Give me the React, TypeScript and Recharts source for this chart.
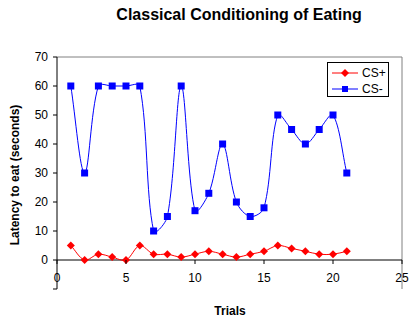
import React from 'react';
import { LineChart, Line, XAxis, YAxis, ReferenceLine } from 'recharts';

// --- data ---
const trials = [1, 2, 3, 4, 5, 6, 7, 8, 9, 10, 11, 12, 13, 14, 15, 16, 17, 18, 19, 20, 21];
const csPlus = [5, 0, 2, 1, 0, 5, 2, 2, 1, 2, 3, 2, 1, 2, 3, 5, 4, 3, 2, 2, 3];
const csMinus = [60, 30, 60, 60, 60, 60, 10, 15, 60, 17, 23, 40, 20, 15, 18, 50, 45, 40, 45, 50, 30];
const xTicks = [0, 5, 10, 15, 20, 25];
const yTicks = [-10, 0, 10, 20, 30, 40, 50, 60, 70];

const data = trials.map((t, i) => ({ trial: t, plus: csPlus[i], minus: csMinus[i] }));

const FONT = 'Arial, "Liberation Sans", sans-serif';
const W = 420;
const H = 326;
const TOP = 57;
const BOTTOM = 37;
const PLOT_H = H - TOP - BOTTOM;
// y of the zero line (domain -10..70)
const ZERO_Y = TOP + (PLOT_H * 70) / 80;

// Excel-like smoothing: bezier through points, control arms scaled by neighbouring segment lengths
const excelCurve = (context: any) => {
  let pts: number[][] = [];
  const dist = (a: number[], b: number[]) => Math.hypot(b[0] - a[0], b[1] - a[1]);
  return {
    areaStart() {},
    areaEnd() {},
    lineStart() {
      pts = [];
    },
    point(x: number, y: number) {
      pts.push([+x, +y]);
    },
    lineEnd() {
      const n = pts.length;
      if (!n) return;
      // control arms for each point: [in, out]
      const arms = pts.map((p, i) => {
        const prev = pts[Math.max(i - 1, 0)];
        const next = pts[Math.min(i + 1, n - 1)];
        const tx = next[0] - prev[0];
        const ty = next[1] - prev[1];
        const dPrev = dist(prev, p);
        const dNext = dist(p, next);
        const sum = dPrev + dNext || 1;
        const fIn = dPrev / sum / 3;
        const fOut = dNext / sum / 3;
        return {
          inX: p[0] - tx * fIn,
          inY: p[1] - ty * fIn,
          outX: p[0] + tx * fOut,
          outY: p[1] + ty * fOut,
        };
      });
      context.moveTo(pts[0][0], pts[0][1]);
      for (let i = 0; i < n - 1; i++) {
        const a = arms[i];
        const b = arms[i + 1];
        context.bezierCurveTo(a.outX, a.outY, b.inX, b.inY, pts[i + 1][0], pts[i + 1][1]);
      }
    },
  };
};

const Diamond = (props: any) => {
  const { cx, cy } = props;
  if (cx == null || cy == null) return null;
  const r = 4;
  return (
    <path
      d={`M${cx},${cy - r}L${cx + r},${cy}L${cx},${cy + r}L${cx - r},${cy}Z`}
      fill="#FF0000"
      stroke="none"
    />
  );
};

const Square = (props: any) => {
  const { cx, cy } = props;
  if (cx == null || cy == null) return null;
  return <rect x={cx - 3.5} y={cy - 3.5} width={7} height={7} fill="#0000FF" stroke="none" />;
};

// x tick drawn on the zero line rather than at the plot bottom
const XTick = (props: any) => {
  const { x, payload } = props;
  return (
    <g>
      <line x1={x} x2={x} y1={ZERO_Y} y2={ZERO_Y + 4} stroke="#000" />
      <text x={x} y={ZERO_Y + 22} textAnchor="middle" fontSize={12} fontFamily={FONT} fill="#000">
        {payload.value}
      </text>
    </g>
  );
};

export default function App() {
  return (
    <div style={{ position: 'relative', width: W, height: H, margin: -8, background: '#fff', fontFamily: FONT }}>
      <div
        style={{
          position: 'absolute',
          left: 0,
          width: W + 58,
          top: 6,
          textAlign: 'center',
          fontSize: 16,
          fontWeight: 'bold',
          color: '#000',
        }}
      >
        Classical Conditioning of Eating
      </div>
      <div
        style={{
          position: 'absolute',
          left: 15,
          top: 175,
          transform: 'translate(-50%, -50%) rotate(-90deg)',
          whiteSpace: 'nowrap',
          fontSize: 12,
          fontWeight: 'bold',
          color: '#000',
        }}
      >
        Latency to eat (seconds)
      </div>
      <div
        style={{
          position: 'absolute',
          left: 230,
          top: 311,
          transform: 'translate(-50%, -50%)',
          fontSize: 12,
          fontWeight: 'bold',
          color: '#000',
        }}
      >
        Trials
      </div>
      <div style={{ position: 'absolute', left: 0, top: 0 }}>
        <LineChart width={W} height={H} data={data} margin={{ top: TOP, right: 18, left: 0, bottom: 0 }}>
          <XAxis
            dataKey="trial"
            type="number"
            domain={[0, 25]}
            ticks={xTicks}
            axisLine={false}
            tickLine={false}
            tick={<XTick />}
            height={BOTTOM}
            interval={0}
          />
          <YAxis
            type="number"
            domain={[-10, 70]}
            ticks={yTicks}
            width={57}
            axisLine={{ stroke: '#000' }}
            tickLine={{ stroke: '#000' }}
            tickSize={4}
            tickMargin={5}
            tickFormatter={(v: number) => (v < 0 ? '' : String(v))}
            tick={{ fill: '#000', fontSize: 12, fontFamily: FONT }}
            interval={0}
          />
          <ReferenceLine y={70} stroke="#808080" strokeWidth={1} />
          <ReferenceLine x={25} stroke="#808080" strokeWidth={1} />
          <ReferenceLine y={0} stroke="#000" strokeWidth={1} />
          <Line
            dataKey="plus"
            type={excelCurve as any}
            stroke="#FF0000"
            strokeWidth={1}
            dot={<Diamond />}
            activeDot={false}
            isAnimationActive={false}
          />
          <Line
            dataKey="minus"
            type={excelCurve as any}
            stroke="#0000FF"
            strokeWidth={1}
            dot={<Square />}
            activeDot={false}
            isAnimationActive={false}
          />
        </LineChart>
      </div>
      <div
        style={{
          position: 'absolute',
          left: 327,
          top: 62,
          width: 60,
          height: 33,
          border: '1px solid #000',
          background: '#fff',
          fontSize: 12,
          color: '#000',
        }}
      >
        {[
          { label: 'CS+', color: '#FF0000', square: false },
          { label: 'CS-', color: '#0000FF', square: true },
        ].map((item, i) => (
          <div key={item.label} style={{ position: 'absolute', left: 4, top: 3 + i * 16, height: 14, display: 'flex', alignItems: 'center' }}>
            <svg width={26} height={10}>
              <line x1={0} x2={26} y1={5} y2={5} stroke={item.color} />
              {item.square ? (
                <rect x={10} y={2} width={6} height={6} fill={item.color} />
              ) : (
                <path d="M13,1L17,5L13,9L9,5Z" fill={item.color} />
              )}
            </svg>
            <span style={{ marginLeft: 4 }}>{item.label}</span>
          </div>
        ))}
      </div>
    </div>
  );
}
